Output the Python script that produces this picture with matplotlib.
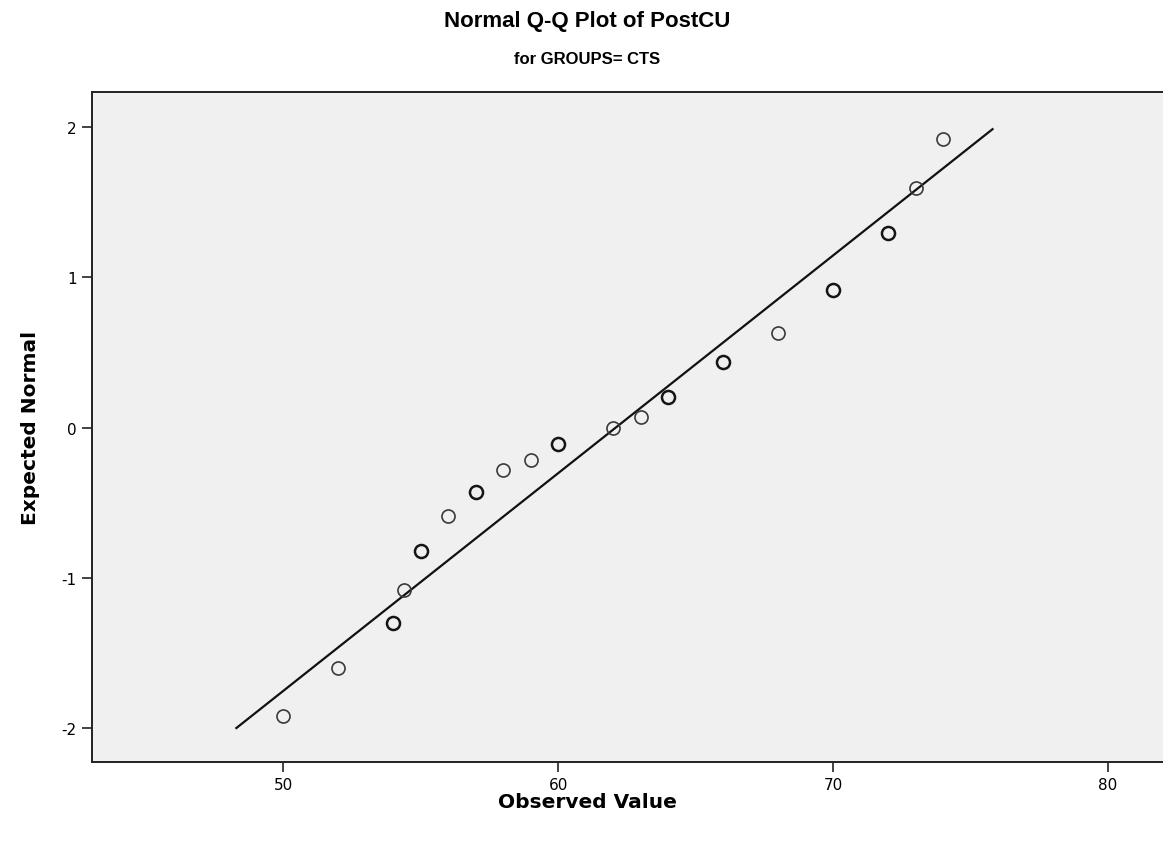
import numpy as np
import matplotlib
matplotlib.use('Agg')
import matplotlib.pyplot as plt

observed = [50, 52, 54, 54.4, 55, 56, 57, 58, 59, 60, 62, 63, 64, 66, 68, 70, 72, 73, 74]
expected = [-1.92, -1.60, -1.30, -1.08, -0.82, -0.59, -0.43, -0.285, -0.213, -0.108,
            0.0, 0.07, 0.206, 0.433, 0.632, 0.912, 1.296, 1.595, 1.917]
# cases at each value (tied points are drawn darker)
counts = [1, 1, 2, 1, 2, 1, 2, 1, 1, 2, 1, 1, 2, 2, 1, 2, 2, 1, 1]

# reference line: normal with this mean / sd, drawn over this range
line_mean = 62.1
line_sd = 6.9
line_range = [48.3, 75.8]

xticks = [50, 60, 70, 80]
yticks = [-2, -1, 0, 1, 2]

plt.rcParams['font.family'] = ['Liberation Sans', 'DejaVu Sans']
plt.rcParams['axes.unicode_minus'] = False

fig = plt.figure(figsize=(11.63, 8.45), dpi=100)
ax = fig.add_axes([92 / 1163, 1 - 763 / 845, (1163 - 92) / 1163, (763 - 93) / 845])
ax.set_facecolor('#f0f0f0')

lx = np.array(line_range)
ax.plot(lx, (lx - line_mean) / line_sd, color='#111111', lw=1.6, zorder=2)

obs = np.array(observed)
exp_ = np.array(expected)
cnt = np.array(counts)
single = cnt == 1
ax.plot(obs[single], exp_[single], 'o', ms=9.4, mfc='none', mec='#3a3a3a', mew=1.2, zorder=3)
ax.plot(obs[~single], exp_[~single], 'o', ms=9.4, mfc='none', mec='#151515', mew=1.8, zorder=3)

ax.set_xlim(43.05, 82.0)
ax.set_ylim(-2.226, 2.233)
ax.set_xticks(xticks)
ax.set_yticks(yticks)
ax.tick_params(axis='both', direction='out', length=7, width=1.2, color='#222222',
               labelsize=11, pad=4)
for t in ax.get_xticklabels() + ax.get_yticklabels():
    t.set_family(['DejaVu Sans'])

for s in ['left', 'bottom', 'top']:
    ax.spines[s].set_linewidth(1.4)
    ax.spines[s].set_color('#222222')
ax.spines['right'].set_visible(False)

fig.text(30 / 1163, 1 - 428 / 845, 'Expected Normal', rotation=90, ha='center', va='center',
         fontsize=14.5, fontweight='bold', family=['DejaVu Sans'])
fig.text(587 / 1163, 1 - 803 / 845, 'Observed Value', ha='center', va='center',
         fontsize=14.5, fontweight='bold', family=['DejaVu Sans'])

fig.text(587 / 1163, 1 - 22 / 845, 'Normal Q-Q Plot of PostCU', ha='center', va='center',
         fontsize=16, fontweight='bold')
fig.text(587 / 1163, 1 - 59 / 845, 'for GROUPS= CTS', ha='center', va='center',
         fontsize=12, fontweight='bold')

fig.savefig('out.png', dpi=100, facecolor='white')
